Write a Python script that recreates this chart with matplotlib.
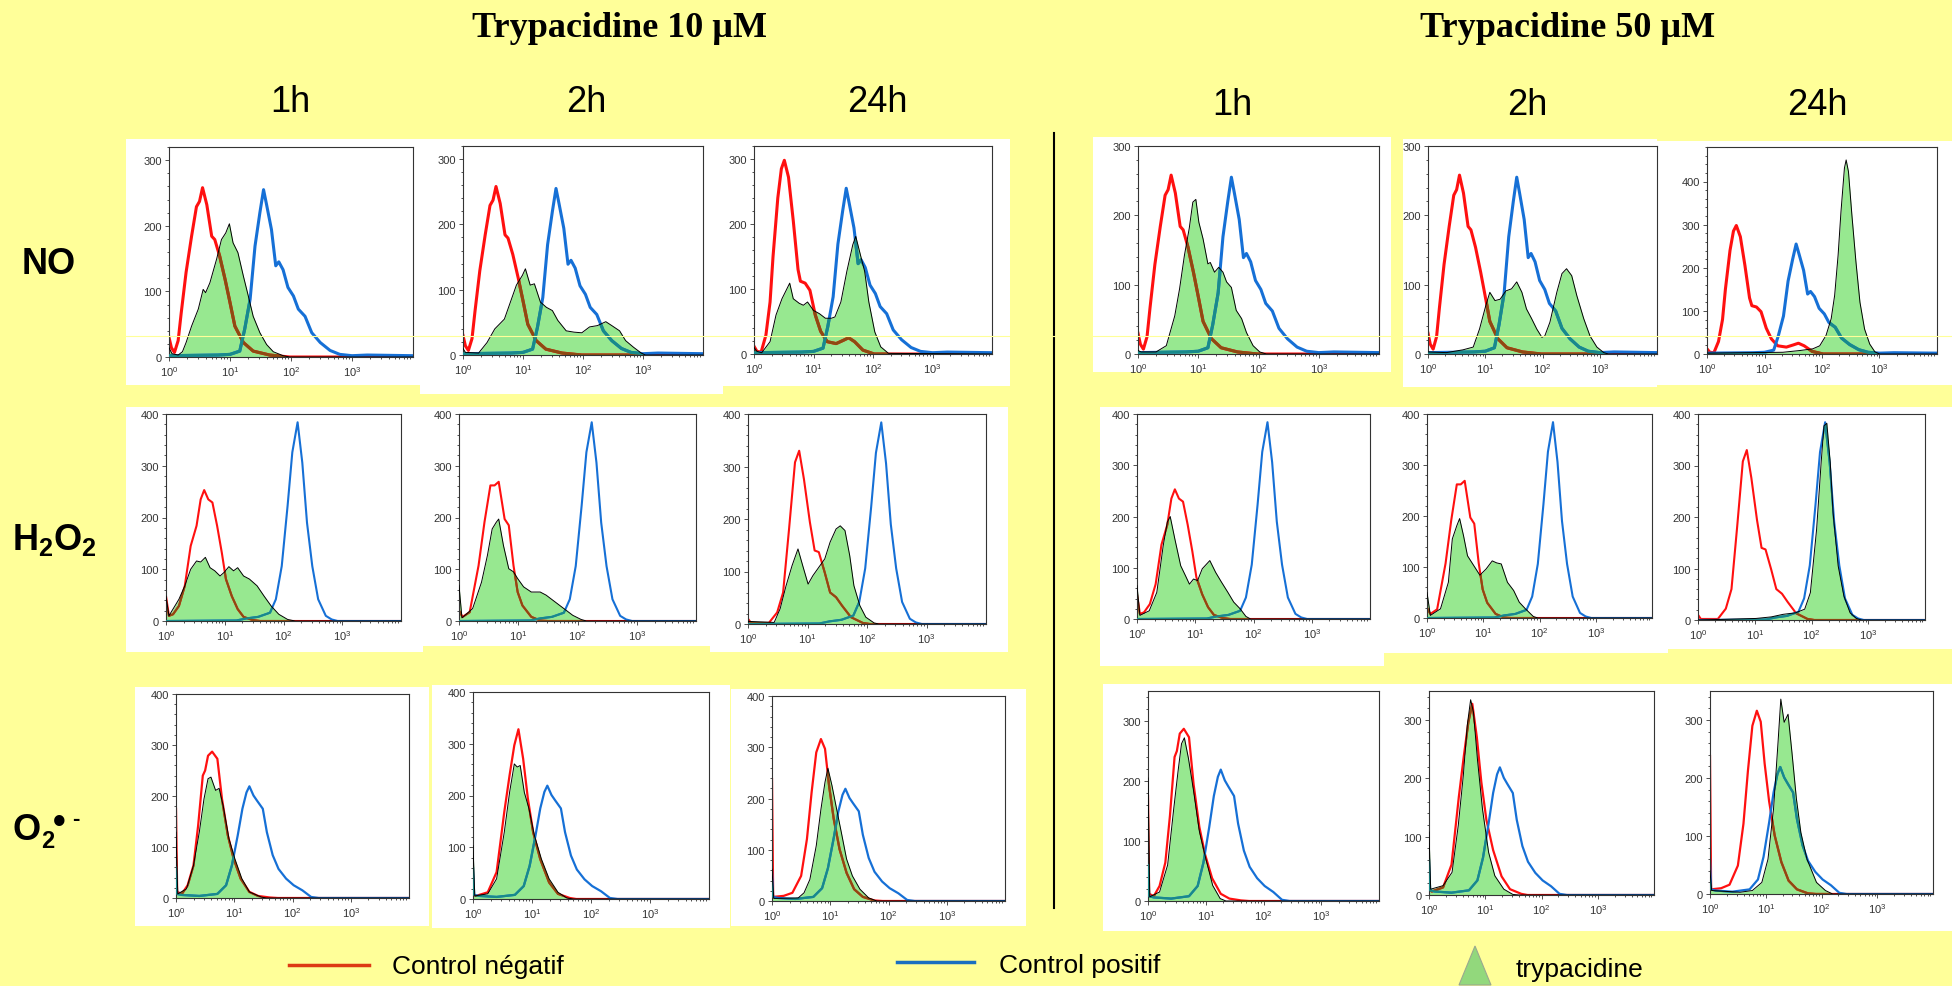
import numpy as np
import matplotlib
matplotlib.use("Agg")
import matplotlib.pyplot as plt
from matplotlib.patches import Rectangle, Polygon
from matplotlib.lines import Line2D
from matplotlib.ticker import FixedLocator, FixedFormatter, LogLocator, MultipleLocator, NullFormatter

plt.rcParams['font.family'] = ['Liberation Sans', 'DejaVu Sans']
plt.rcParams['mathtext.fontset'] = 'custom'
plt.rcParams['mathtext.rm'] = 'Liberation Sans'
plt.rcParams['mathtext.it'] = 'Liberation Sans:italic'
plt.rcParams['mathtext.bf'] = 'Liberation Sans:bold'

W, H = 1952, 987

# histograms: (log10 of fluorescence, count)
# --- NO row ---
NO_NEG = [(0.00, 30), (0.04, 14), (0.09, 7), (0.15, 25), (0.20, 67), (0.28, 129), (0.37, 184), (0.45, 229),
          (0.50, 237), (0.55, 258), (0.62, 232), (0.70, 184), (0.75, 179), (0.83, 154), (0.92, 118), (1.00, 83),
          (1.08, 47), (1.22, 22), (1.38, 9), (1.65, 3), (1.98, 0), (4.0, 0)]
NO_NEG_24H = [(0.00, 12), (0.05, 4), (0.12, 3), (0.20, 29), (0.27, 80), (0.32, 150), (0.40, 240), (0.46, 285),
              (0.51, 298), (0.58, 272), (0.66, 205), (0.74, 130), (0.78, 112), (0.86, 109), (0.94, 98), (1.03, 60),
              (1.12, 35), (1.23, 19), (1.38, 16), (1.50, 21), (1.59, 25), (1.69, 19), (1.83, 6), (2.02, 0), (4.0, 0)]
NO_POS = [(0.00, 2), (0.80, 3), (1.00, 4), (1.16, 9), (1.24, 42), (1.33, 88), (1.41, 169), (1.49, 220), (1.55, 255),
          (1.60, 232), (1.68, 194), (1.75, 139), (1.80, 145), (1.87, 133), (1.95, 106), (2.04, 93), (2.12, 73),
          (2.23, 62), (2.34, 37), (2.48, 22), (2.64, 10), (2.80, 4), (3.00, 2), (3.25, 3), (4.0, 2)]
NO_T10_1H = [(0.00, 14), (0.05, 5), (0.15, 3), (0.22, 8), (0.28, 22), (0.37, 47), (0.48, 73), (0.56, 103), (0.60, 98),
             (0.67, 113), (0.78, 149), (0.86, 179), (0.93, 189), (0.99, 203), (1.05, 174), (1.13, 159), (1.22, 123),
             (1.30, 93), (1.38, 62), (1.49, 37), (1.60, 19), (1.71, 8), (1.87, 2), (1.98, 0), (4.0, 0)]
NO_T10_2H = [(0.00, 10), (0.04, 4), (0.26, 3), (0.40, 19), (0.53, 40), (0.69, 55), (0.79, 81), (0.89, 107), (0.99, 122),
             (1.04, 132), (1.12, 107), (1.19, 109), (1.29, 81), (1.39, 73), (1.49, 68), (1.58, 53), (1.72, 37),
             (1.85, 35), (1.98, 34), (2.11, 43), (2.24, 45), (2.38, 51), (2.48, 45), (2.61, 37), (2.71, 22),
             (2.84, 12), (2.97, 3), (3.04, 0), (4.0, 0)]
NO_T10_24H = [(0.00, 10), (0.05, 4), (0.13, 2), (0.27, 19), (0.37, 60), (0.47, 85), (0.53, 96), (0.60, 109), (0.66, 85),
              (0.76, 78), (0.83, 75), (0.90, 80), (1.00, 67), (1.10, 62), (1.20, 55), (1.30, 55), (1.36, 57),
              (1.46, 80), (1.56, 127), (1.66, 168), (1.71, 181), (1.79, 152), (1.86, 127), (1.93, 80), (2.03, 34),
              (2.13, 11), (2.26, 1), (4.0, 0)]
NO_T50_1H = [(0.00, 5), (0.05, 3), (0.30, 3), (0.47, 12), (0.61, 55), (0.69, 94), (0.77, 142), (0.85, 181), (0.91, 219),
             (0.96, 223), (1.01, 190), (1.08, 166), (1.16, 130), (1.20, 132), (1.27, 118), (1.34, 125), (1.41, 118),
             (1.47, 104), (1.55, 96), (1.63, 63), (1.72, 51), (1.80, 31), (1.91, 12), (2.02, 3), (2.13, 0), (4.0, 0)]
NO_T50_2H = [(0.00, 3), (0.32, 2), (0.61, 6), (0.79, 10), (0.90, 36), (1.01, 70), (1.08, 89), (1.17, 77), (1.26, 79),
             (1.36, 91), (1.46, 94), (1.55, 104), (1.64, 89), (1.72, 65), (1.81, 51), (1.90, 36), (1.99, 24),
             (2.04, 26), (2.13, 46), (2.25, 89), (2.34, 116), (2.42, 123), (2.51, 113), (2.60, 84), (2.72, 51),
             (2.83, 26), (2.95, 10), (3.07, 2), (3.15, 0), (4.0, 0)]
NO_T50_24H = [(0.00, 2), (1.32, 4), (1.61, 8), (1.84, 12), (1.96, 19), (2.07, 43), (2.16, 82), (2.22, 136), (2.28, 229),
              (2.33, 330), (2.39, 431), (2.42, 450), (2.46, 423), (2.52, 322), (2.59, 214), (2.66, 120), (2.74, 58),
              (2.83, 23), (2.92, 5), (3.00, 0), (4.0, 0)]

# --- H2O2 row ---
H2O2_NEG_1H = [(0.00, 48), (0.05, 10), (0.12, 13), (0.22, 29), (0.32, 68), (0.42, 145), (0.52, 184), (0.59, 235),
               (0.65, 253), (0.72, 235), (0.79, 229), (0.87, 184), (0.95, 132), (1.02, 81), (1.12, 48), (1.22, 23),
               (1.32, 8), (1.47, 2), (1.60, 0), (4.0, 0)]
H2O2_NEG_2H = [(0.00, 20), (0.06, 8), (0.18, 17), (0.33, 107), (0.43, 191), (0.53, 262), (0.60, 262), (0.67, 269),
               (0.77, 197), (0.84, 185), (0.92, 107), (0.99, 56), (1.07, 30), (1.22, 8), (1.37, 1), (1.50, 0), (4.0, 0)]
H2O2_NEG_24H = [(0.00, 10), (0.05, 2), (0.35, 2), (0.49, 22), (0.59, 60), (0.69, 181), (0.79, 308), (0.86, 330),
                (0.94, 276), (1.04, 194), (1.12, 140), (1.19, 137), (1.29, 98), (1.38, 60), (1.48, 51), (1.58, 35),
                (1.73, 13), (1.93, 2), (2.05, 0), (4.0, 0)]
H2O2_POS = [(0.00, 0), (1.20, 1), (1.37, 5), (1.57, 8), (1.77, 16), (1.87, 42), (1.97, 106), (2.07, 223), (2.15, 326),
            (2.24, 384), (2.32, 306), (2.40, 190), (2.49, 106), (2.59, 42), (2.72, 10), (2.82, 3), (2.92, 0), (4.0, 0)]
H2O2_T10_1H = [(0.00, 48), (0.05, 10), (0.22, 42), (0.32, 68), (0.42, 100), (0.52, 116), (0.59, 114), (0.67, 123),
               (0.75, 103), (0.83, 97), (0.92, 87), (0.99, 94), (1.07, 105), (1.15, 97), (1.22, 103), (1.32, 87),
               (1.42, 81), (1.55, 68), (1.67, 48), (1.79, 29), (1.92, 13), (2.07, 3), (2.20, 0), (4.0, 0)]
H2O2_T10_2H = [(0.00, 69), (0.05, 6), (0.23, 24), (0.38, 75), (0.48, 127), (0.56, 178), (0.63, 191), (0.67, 197),
               (0.75, 146), (0.84, 101), (0.92, 95), (0.99, 82), (1.09, 66), (1.22, 56), (1.37, 56), (1.47, 50),
               (1.62, 37), (1.77, 24), (1.92, 11), (2.06, 3), (2.15, 0), (4.0, 0)]
H2O2_T10_24H = [(0.00, 5), (0.44, 3), (0.54, 29), (0.64, 73), (0.74, 111), (0.84, 143), (0.92, 111), (1.01, 76),
                (1.09, 92), (1.19, 108), (1.29, 124), (1.38, 156), (1.48, 181), (1.55, 187), (1.63, 178), (1.71, 130),
                (1.78, 73), (1.88, 35), (1.98, 13), (2.12, 2), (2.20, 0), (4.0, 0)]
H2O2_T50_1H = [(0.00, 65), (0.05, 7), (0.21, 16), (0.34, 52), (0.45, 143), (0.52, 189), (0.57, 200), (0.65, 156),
               (0.75, 104), (0.83, 85), (0.90, 68), (0.97, 78), (1.04, 75), (1.12, 98), (1.25, 114), (1.35, 91),
               (1.45, 72), (1.56, 52), (1.66, 33), (1.77, 20), (1.87, 5), (1.95, 0), (4.0, 0)]
H2O2_T50_2H = [(0.00, 50), (0.06, 5), (0.24, 18), (0.38, 70), (0.45, 155), (0.53, 181), (0.58, 195), (0.65, 161),
               (0.72, 122), (0.83, 103), (0.94, 84), (1.05, 96), (1.16, 112), (1.24, 108), (1.32, 106), (1.43, 70),
               (1.54, 54), (1.64, 31), (1.75, 18), (1.89, 3), (1.97, 0), (4.0, 0)]
H2O2_T50_24H = [(0.00, 0), (1.02, 3), (1.29, 6), (1.50, 11), (1.72, 14), (1.88, 21), (1.98, 53), (2.09, 176),
                (2.17, 306), (2.22, 377), (2.27, 382), (2.33, 306), (2.38, 209), (2.47, 105), (2.57, 47), (2.68, 14),
                (2.79, 3), (2.88, 0), (4.0, 0)]

# --- superoxide row ---
O2_NEG_1H = [(0.00, 175), (0.02, 12), (0.10, 8), (0.20, 25), (0.30, 64), (0.38, 142), (0.46, 240), (0.50, 250),
             (0.55, 279), (0.62, 287), (0.71, 273), (0.79, 194), (0.89, 123), (0.99, 77), (1.11, 38), (1.26, 12),
             (1.41, 4), (1.61, 1), (1.75, 0), (4.0, 0)]
O2_NEG_2H = [(0.00, 10), (0.05, 6), (0.25, 13), (0.40, 52), (0.53, 168), (0.62, 239), (0.70, 297), (0.77, 328),
             (0.85, 271), (0.93, 194), (1.02, 129), (1.14, 77), (1.29, 32), (1.44, 10), (1.64, 2), (1.75, 0), (4.0, 0)]
O2_NEG_24H = [(0.00, 238), (0.02, 8), (0.20, 10), (0.35, 16), (0.50, 49), (0.60, 121), (0.68, 212), (0.76, 290),
              (0.84, 316), (0.91, 297), (0.98, 225), (1.06, 160), (1.16, 101), (1.28, 55), (1.41, 23), (1.56, 8),
              (1.76, 1), (1.90, 0), (4.0, 0)]
O2_POS = [(0.00, 60), (0.02, 8), (0.10, 6), (0.40, 4), (0.71, 8), (0.86, 25), (0.96, 64), (1.06, 123), (1.14, 175),
          (1.21, 207), (1.26, 219), (1.33, 201), (1.39, 191), (1.49, 175), (1.56, 129), (1.66, 84), (1.76, 57),
          (1.89, 38), (2.02, 25), (2.17, 15), (2.32, 2), (2.45, 0), (4.0, 0)]
O2_T10_1H = [(0.00, 129), (0.03, 8), (0.18, 18), (0.30, 64), (0.40, 129), (0.48, 194), (0.55, 234), (0.60, 237),
             (0.68, 211), (0.74, 215), (0.81, 181), (0.91, 116), (1.01, 77), (1.13, 38), (1.26, 12), (1.46, 2),
             (1.55, 0), (4.0, 0)]
O2_T10_2H = [(0.00, 103), (0.03, 6), (0.25, 10), (0.40, 39), (0.53, 129), (0.62, 206), (0.70, 261), (0.75, 255),
             (0.80, 258), (0.87, 206), (0.95, 174), (1.04, 123), (1.16, 77), (1.29, 39), (1.44, 13), (1.59, 2),
             (1.70, 0), (4.0, 0)]
O2_T10_24H = [(0.00, 62), (0.03, 5), (0.45, 6), (0.55, 16), (0.65, 42), (0.76, 108), (0.84, 179), (0.91, 232),
              (0.96, 259), (1.03, 225), (1.11, 179), (1.19, 134), (1.28, 82), (1.38, 49), (1.51, 23), (1.66, 6),
              (1.80, 0), (4.0, 0)]
O2_T50_1H = [(0.00, 205), (0.03, 7), (0.20, 15), (0.34, 60), (0.44, 149), (0.52, 216), (0.58, 262), (0.63, 272),
             (0.70, 238), (0.79, 183), (0.89, 116), (1.00, 71), (1.12, 26), (1.25, 4), (1.35, 0), (4.0, 0)]
O2_T50_2H = [(0.00, 108), (0.03, 10), (0.25, 16), (0.41, 39), (0.52, 119), (0.61, 205), (0.68, 291), (0.74, 335),
             (0.79, 314), (0.86, 234), (0.95, 148), (1.06, 73), (1.17, 33), (1.33, 10), (1.49, 1), (1.60, 0), (4.0, 0)]
O2_T50_24H = [(0.00, 40), (0.03, 6), (0.54, 3), (0.76, 6), (0.93, 20), (1.04, 60), (1.14, 147), (1.22, 261),
              (1.27, 336), (1.33, 296), (1.40, 310), (1.47, 244), (1.55, 164), (1.63, 106), (1.74, 60), (1.91, 20),
              (2.07, 6), (2.20, 0), (4.0, 0)]

NEG_CURVES = [[NO_NEG, NO_NEG, NO_NEG_24H, NO_NEG, NO_NEG, NO_NEG_24H],
              [H2O2_NEG_1H, H2O2_NEG_2H, H2O2_NEG_24H, H2O2_NEG_1H, H2O2_NEG_2H, H2O2_NEG_24H],
              [O2_NEG_1H, O2_NEG_2H, O2_NEG_24H, O2_NEG_1H, O2_NEG_2H, O2_NEG_24H]]
POS_CURVES = [[NO_POS] * 6, [H2O2_POS] * 6, [O2_POS] * 6]
TRYP_CURVES = [[NO_T10_1H, NO_T10_2H, NO_T10_24H, NO_T50_1H, NO_T50_2H, NO_T50_24H],
               [H2O2_T10_1H, H2O2_T10_2H, H2O2_T10_24H, H2O2_T50_1H, H2O2_T50_2H, H2O2_T50_24H],
               [O2_T10_1H, O2_T10_2H, O2_T10_24H, O2_T50_1H, O2_T50_2H, O2_T50_24H]]
YMAX = [[320, 320, 320, 300, 300, 480], [400] * 6, [400, 400, 400, 350, 350, 350]]
XTICK_LABELS = [r'$10^{0}$', r'$10^{1}$', r'$10^{2}$', r'$10^{3}$']
TITLES = ['Trypacidine 10 µM', 'Trypacidine 50 µM']
TIMES = ['1h', '2h', '24h', '1h', '2h', '24h']
LEGEND = ['Control négatif', 'Control positif', 'trypacidine']

# layout in pixels: axes (left, right, top, bottom)
AX_BOX = [[(169, 413, 148, 358), (463, 703, 147, 356), (754, 992, 147, 355),
           (1138, 1379, 147, 355), (1428, 1657, 147, 355), (1707, 1937, 148, 355)],
          [(166, 401, 415, 622), (459, 696, 415, 622), (748, 986, 415, 625),
           (1137, 1370, 415, 620), (1427, 1652, 415, 619), (1698, 1925, 415, 621)],
          [(176, 409, 695, 899), (473, 709, 693, 900), (772, 1005, 697, 902),
           (1148, 1379, 692, 902), (1429, 1654, 692, 896), (1710, 1933, 692, 895)]]
WHITE_BOX = [(126, 420, 140, 386), (420, 723, 140, 395), (723, 1010, 140, 387), (1093, 1391, 138, 373),
             (1403, 1657, 140, 388), (1657, 1952, 142, 386),
             (126, 423, 408, 653), (420, 710, 408, 647), (710, 1008, 408, 653), (1100, 1384, 408, 667),
             (1384, 1668, 408, 654), (1668, 1952, 408, 650),
             (135, 429, 688, 927), (432, 730, 686, 929), (731, 1026, 690, 927), (1103, 1952, 685, 932)]
LINE_W = [2.2, 1.5, 1.6]

BG = '#ffff99'
RED = '#ff1010'
BLUE = '#1670d6'
GREEN = '#97e890'
RED_UNDER = '#8e4a12'
BLUE_UNDER = '#188a8a'


def fx(px):
    return px / W


def fy(py):
    return 1 - py / H


fig = plt.figure(figsize=(W / 100, H / 100), dpi=100, facecolor=BG)

for x0, x1, y0, y1 in WHITE_BOX:
    fig.add_artist(Rectangle((fx(x0), fy(y1)), (x1 - x0) / W, (y1 - y0) / H, transform=fig.transFigure,
                             facecolor='white', edgecolor='none', zorder=-1))

for r in range(3):
    for c in range(6):
        l, rr, t, b = AX_BOX[r][c]
        ax = fig.add_axes([fx(l), fy(b), (rr - l) / W, (b - t) / H])
        ax.set_facecolor('white')
        lw = LINE_W[r]

        dg, yg = np.array(TRYP_CURVES[r][c], dtype=float).T
        xg = 10 ** dg
        ax.fill_between(xg, yg, 0, color=GREEN, lw=0, zorder=1)
        poly = Polygon(np.column_stack([np.r_[xg, xg[-1], xg[0]], np.r_[yg, 0, 0]]), closed=True,
                       transform=ax.transData)

        for pts, col, under, z in [(NEG_CURVES[r][c], RED, RED_UNDER, 2.0), (POS_CURVES[r][c], BLUE, BLUE_UNDER, 2.1)]:
            d, y = np.array(pts, dtype=float).T
            ax.plot(10 ** d, y, color=col, lw=lw, zorder=z, solid_joinstyle='round')
            ln, = ax.plot(10 ** d, y, color=under, lw=lw, zorder=z + 0.5, solid_joinstyle='round')
            ln.set_clip_path(poly)

        ax.plot(xg, yg, color='black', lw=0.7, zorder=3)

        ax.set_xscale('log')
        ax.set_xlim(1, 1e4)
        ax.set_ylim(0, YMAX[r][c])
        ax.xaxis.set_major_locator(FixedLocator([1, 10, 100, 1000]))
        ax.xaxis.set_major_formatter(FixedFormatter(XTICK_LABELS))
        ax.xaxis.set_minor_locator(LogLocator(base=10, subs=np.arange(2, 10), numticks=20))
        ax.xaxis.set_minor_formatter(NullFormatter())
        ax.yaxis.set_major_locator(MultipleLocator(100))
        ax.yaxis.set_minor_locator(MultipleLocator(20))
        ax.tick_params(which='both', direction='out', labelsize=8, colors='#333333', width=0.6, pad=2)
        ax.tick_params(which='major', length=3)
        ax.tick_params(which='minor', length=1.5)
        for s in ax.spines.values():
            s.set_linewidth(0.8)
            s.set_color('#333333')

# faint scan artefact line across the first row
fig.add_artist(Line2D([fx(126), fx(1952)], [fy(337), fy(337)], transform=fig.transFigure,
                      color='#ffff99', lw=0.8, zorder=5))

# divider
fig.add_artist(Line2D([fx(1054), fx(1054)], [fy(134), fy(909)], transform=fig.transFigure,
                      color='black', lw=1.5))

# titles
for xc, s in zip([619, 1568], TITLES):
    fig.text(fx(xc), fy(37), s, family=['Liberation Serif', 'DejaVu Serif'], weight='bold', fontsize=26,
             ha='center', va='baseline')
for xc, yb, s in zip([290, 586, 877, 1232, 1527, 1817], [112, 112, 112, 115, 115, 115], TIMES):
    fig.text(fx(xc), fy(yb), s, fontsize=26, ha='center', va='baseline')

# row labels
fig.text(fx(22), fy(274), 'NO', fontsize=26, weight='bold', ha='left', va='baseline')
fig.text(fx(12), fy(550), r'$\mathbf{H_2O_2}$', fontsize=26, ha='left', va='baseline')
fig.text(fx(13), fy(840), 'O', fontsize=26, weight='bold', ha='left', va='baseline')
fig.text(fx(41), fy(848), '2', fontsize=17, weight='bold', ha='left', va='baseline')
fig.text(fx(53), fy(833), '•', fontsize=26, weight='bold', ha='left', va='baseline')
fig.text(fx(72), fy(825), '-', fontsize=16, weight='bold', ha='left', va='baseline')

# legend
fig.add_artist(Line2D([fx(289), fx(369)], [fy(966), fy(966)], transform=fig.transFigure, color='#dd3a14', lw=2.5))
fig.text(fx(392), fy(967), LEGEND[0], fontsize=19, ha='left', va='center')
fig.add_artist(Line2D([fx(897), fx(974)], [fy(963), fy(963)], transform=fig.transFigure, color='#1a6fc0', lw=2.5))
fig.text(fx(999), fy(966), LEGEND[1], fontsize=19, ha='left', va='center')
fig.add_artist(Polygon([(fx(1459), fy(986)), (fx(1491), fy(986)), (fx(1475), fy(947))], closed=True,
                       transform=fig.transFigure, facecolor='#92d87c', edgecolor='#9aa88f', lw=0.8))
fig.text(fx(1516), fy(970), LEGEND[2], fontsize=19, ha='left', va='center')

fig.savefig('out.png', dpi=100, facecolor=BG)
